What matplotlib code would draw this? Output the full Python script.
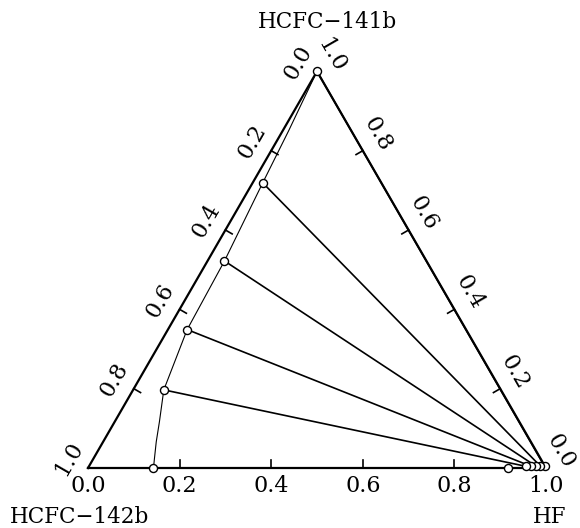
"""Ternary LLE diagram: HCFC-142b / HCFC-141b / HF with tie lines."""

from typing import Tuple

import numpy as np
import matplotlib
matplotlib.use("Agg")
import matplotlib.pyplot as plt

SQ3 = np.sqrt(3) / 2

# organic-rich phase (measured points): HF fraction, HCFC-141b fraction
org_hf = [0.0, 0.022, 0.037, 0.042, 0.067, 0.143]
org_141b = [1.0, 0.719, 0.522, 0.349, 0.197, 0.0]

# binodal curve of the organic phase
curve_hf = [0.0, 0.006, 0.013, 0.022, 0.037, 0.042, 0.067, 0.0975, 0.116, 0.1335, 0.143]
curve_141b = [1.0, 0.93, 0.85, 0.719, 0.522, 0.349, 0.197, 0.117, 0.066, 0.023, 0.0]

# HF-rich phase (tie line partners, same order as org_*)
aq_hf = [0.995, 0.985, 0.975, 0.966, 0.955, 0.918]
aq_141b = [0.004, 0.005, 0.005, 0.004, 0.004, 0.0]

tick_vals = [0.0, 0.2, 0.4, 0.6, 0.8, 1.0]
tick_labels = ["0.0", "0.2", "0.4", "0.6", "0.8", "1.0"]
corner_names = ["HCFC\u2212142b", "HF", "HCFC\u2212141b"]


def to_xy(hf, r141b) -> Tuple[np.ndarray, np.ndarray]:
    """Convert (HF, HCFC-141b) fractions to cartesian triangle coordinates."""
    hf = np.asarray(hf, dtype=float)
    r141b = np.asarray(r141b, dtype=float)
    return hf + r141b / 2, r141b * SQ3


def draw_frame(ax) -> None:
    """Triangle edges, inward ticks and tick labels on all three sides."""
    x, y = to_xy([0, 1, 0, 0], [0, 0, 1, 0])
    ax.plot(x, y, color="black", lw=1.6, solid_joinstyle="miter")

    tl = 0.017
    fs = 16
    off = 0.046
    for v, lab in zip(tick_vals, tick_labels):
        # bottom side: HF fraction
        bx, by = to_xy(v, 0)
        if 0 < v < 1:
            ax.plot([bx, bx], [by, by + tl], color="black", lw=1.2)
        ax.text(bx, by - 0.040, lab, ha="center", va="center", fontsize=fs,
                family="DejaVu Serif")

        # left side: HCFC-142b fraction (0 at top)
        lx, ly = to_xy(0, 1 - v)
        if 0 < v < 1:
            ax.plot([lx, lx + tl * SQ3], [ly, ly - tl * 0.5], color="black", lw=1.2)
        ax.text(lx - off * SQ3 - 0.004 * 0.5, ly + off * 0.5 - 0.004 * SQ3, lab,
                rotation=60, rotation_mode="anchor", ha="center", va="center",
                fontsize=fs, family="DejaVu Serif")

        # right side: HCFC-141b fraction (0 at HF corner)
        rx, ry = to_xy(1 - v, v)
        if 0 < v < 1:
            ax.plot([rx, rx - tl * SQ3], [ry, ry - tl * 0.5], color="black", lw=1.2)
        ax.text(rx + off * SQ3 - 0.015 * 0.5, ry + off * 0.5 + 0.015 * SQ3, lab,
                rotation=-60, rotation_mode="anchor", ha="center", va="center",
                fontsize=fs, family="DejaVu Serif")


def plot(out_file: str) -> None:
    """Build the ternary diagram and save it."""
    fig = plt.figure(figsize=(5.8, 5.28), dpi=100)
    ax = fig.add_axes([0, 0, 1, 1])
    ax.set_xlim(-88 / 458, 492 / 458)
    ax.set_ylim(-60 / 458, 468 / 458)
    ax.axis("off")

    draw_frame(ax)

    cx, cy = to_xy(curve_hf, curve_141b)
    ax.plot(cx, cy, color="black", lw=0.8)

    ox, oy = to_xy(org_hf, org_141b)
    wx, wy = to_xy(aq_hf, aq_141b)
    for i in range(len(ox)):
        ax.plot([ox[i], wx[i]], [oy[i], wy[i]], color="black", lw=1.2)

    mk = dict(ls="none", marker="o", ms=5.8, mfc="white", mec="black", mew=1.0)
    ax.plot(ox, oy, **mk)
    ax.plot(wx, wy, **mk)

    ax.text(-0.0175, -0.107, corner_names[0], ha="center", va="center",
            fontsize=15.5, family="DejaVu Serif")
    ax.text(1.009, -0.107, corner_names[1], ha="center", va="center",
            fontsize=15.5, family="DejaVu Serif")
    ax.text(0.524, 0.974, corner_names[2], ha="center", va="center",
            fontsize=15.5, family="DejaVu Serif")

    fig.savefig(out_file, dpi=100)


if __name__ == "__main__":
    plot("out.png")
